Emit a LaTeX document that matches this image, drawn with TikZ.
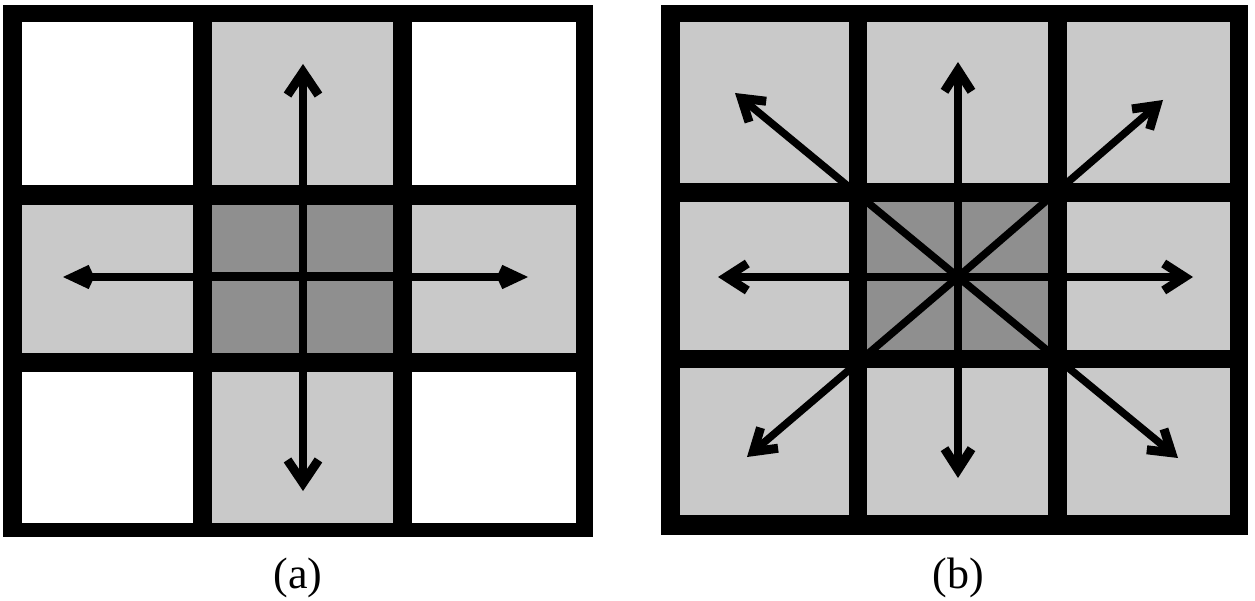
\documentclass[tikz,border=0pt]{standalone}
\usepackage{fontspec}
\setmainfont{Liberation Serif}
\usetikzlibrary{arrows.meta}
\definecolor{lgray}{RGB}{201,201,201}
\definecolor{dgray}{RGB}{143,143,143}
\tikzset{
  frame/.style={fill=black},
  lcell/.style={fill=lgray},
  wcell/.style={fill=white},
  dcell/.style={fill=dgray},
  arrAv/.style={line width=7.5pt,-{Straight Barb[length=23pt,width=31pt,line width=9pt]}},
  arrAh/.style={line width=7.5pt,-{Straight Barb[length=17pt,width=16pt,line width=9pt]}},
  arrB/.style={line width=7.5pt,-{Straight Barb[length=21pt,width=27pt,line width=9pt]}},
  caption/.style={font=\fontsize{44}{52}\selectfont, inner sep=0pt}
}
\begin{document}
\begin{tikzpicture}[x=1pt,y=-1pt]
\useasboundingbox[fill=white] (0,0) rectangle (1255,601);
% ---------- grid (a) ----------
\fill[frame] (3,5) rectangle (593,537);
\fill[wcell] (22,22) rectangle (193,185);
\fill[lcell] (212,22) rectangle (393,185);
\fill[wcell] (412,22) rectangle (576,185);
\fill[lcell] (22,205) rectangle (193,353);
\fill[dcell] (212,205) rectangle (393,353);
\fill[lcell] (412,205) rectangle (576,353);
\fill[wcell] (22,372) rectangle (193,523);
\fill[lcell] (212,372) rectangle (393,523);
\fill[wcell] (412,372) rectangle (576,523);
\fill[frame] (299,205) rectangle (307,353);
\fill[frame] (212,272) rectangle (393,281);
\coordinate (ac) at (303,277);
\coordinate (aN) at (303,64);
\coordinate (aS) at (303,491);
\coordinate (aW) at (63,277);
\coordinate (aE) at (528,277);
\draw[arrAv] (ac) -- (aN);
\draw[arrAv] (ac) -- (aS);
\draw[arrAh] (ac) -- (aW);
\draw[arrAh] (ac) -- (aE);
% ---------- grid (b) ----------
\fill[frame] (661,5) rectangle (1248,535);
\fill[lcell] (680,22) rectangle (849,183);
\fill[lcell] (867,22) rectangle (1048,183);
\fill[lcell] (1067,22) rectangle (1230,183);
\fill[lcell] (680,202) rectangle (849,350);
\fill[dcell] (867,202) rectangle (1048,350);
\fill[lcell] (1067,202) rectangle (1230,350);
\fill[lcell] (680,368) rectangle (849,515);
\fill[lcell] (867,368) rectangle (1048,515);
\fill[lcell] (1067,368) rectangle (1230,515);
\coordinate (bc) at (958,277);
\coordinate (bN) at (958,62);
\coordinate (bS) at (958,478);
\coordinate (bW) at (718,277);
\coordinate (bE) at (1193,277);
\coordinate (bNW) at (735,93);
\coordinate (bNE) at (1163,100);
\coordinate (bSW) at (747,457);
\coordinate (bSE) at (1178,458);
\foreach \t in {bN,bS,bW,bE,bNW,bNE,bSW,bSE}
  \draw[arrB] (bc) -- (\t);
% ---------- captions ----------
\node[caption] (la) at (298,578) {(a)};
\node[caption] (lb) at (958,578) {(b)};
\end{tikzpicture}
\end{document}
